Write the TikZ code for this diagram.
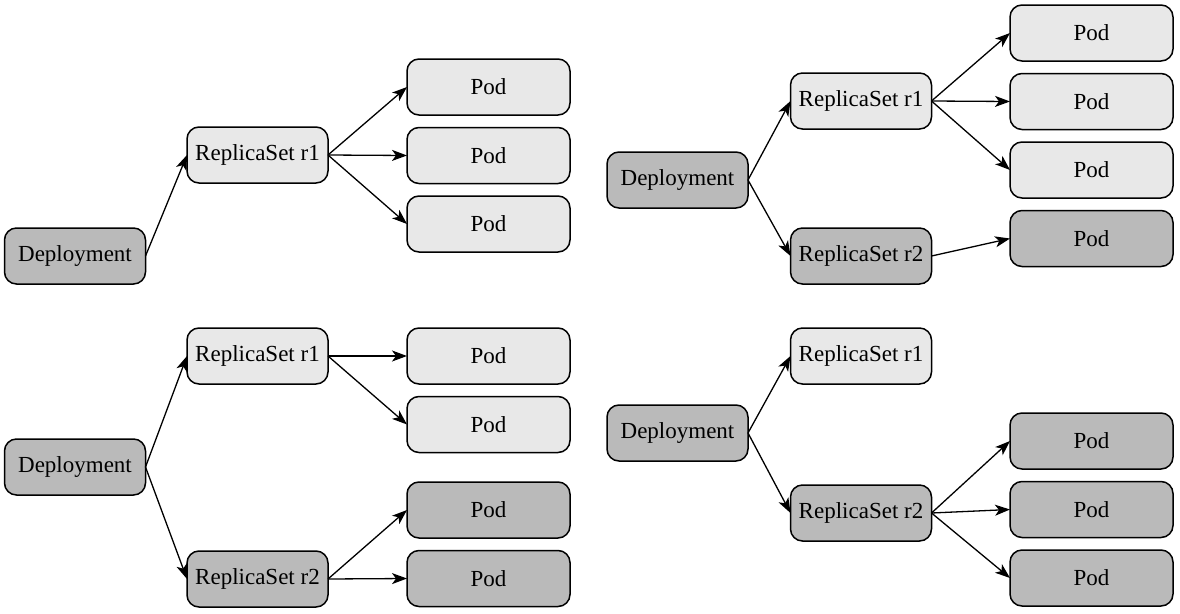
\documentclass[tikz,border=0pt]{standalone}
\usepackage{fontspec}
\setmainfont{Liberation Serif}
\usetikzlibrary{arrows.meta,positioning}
\definecolor{rsLight}{HTML}{E8E8E8}
\definecolor{rsDark}{HTML}{BABABA}
\tikzset{
  box/.style={
    rectangle,
    rounded corners=12pt,
    draw=black,
    line width=1.5pt,
    outer sep=0pt,
    fill=rsLight,
    align=center,
    font=\fontsize{23}{27}\selectfont,
    minimum height=56pt,
    minimum width=141pt,
    inner sep=0pt
  },
  podbox/.style={box, minimum width=163pt},
  old/.style={fill=rsLight},
  new/.style={fill=rsDark},
  arrow/.style={-{Stealth[length=15pt,width=11pt,inset=4pt]}, line width=1.3pt}
}
\begin{document}
\begin{tikzpicture}[x=1pt, y=-1pt, node distance=12.5pt]
  \useasboundingbox (0,0) rectangle (1180,613);
  % top left: one replica set
  \node[box, new] (depA) at (75,256) {Deployment};
  \node[box, old] (rsA1) at (257.5,155) {ReplicaSet r1};
  \node[podbox, old] (podA1) at (488.5,87) {Pod};
  \node[podbox, old, below=of podA1] (podA2) {Pod};
  \node[podbox, old, below=of podA2] (podA3) {Pod};
  \draw[arrow] (depA.east) -- (rsA1.west);
  \foreach \p in {podA1,podA2,podA3}
    \draw[arrow] (rsA1.east) -- (\p.west);
  % top right: second replica set starts
  \node[box, new] (depB) at (677.5,180) {Deployment};
  \node[box, old] (rsB1) at (861,101) {ReplicaSet r1};
  \node[box, new] (rsB2) at (861,256) {ReplicaSet r2};
  \node[podbox, old] (podB1) at (1091.5,33) {Pod};
  \node[podbox, old, below=of podB1] (podB2) {Pod};
  \node[podbox, old, below=of podB2] (podB3) {Pod};
  \node[podbox, new, below=of podB3] (podB4) {Pod};
  \draw[arrow] (depB.east) -- (rsB1.west);
  \draw[arrow] (depB.east) -- (rsB2.west);
  \foreach \p in {podB1,podB2,podB3}
    \draw[arrow] (rsB1.east) -- (\p.west);
  \draw[arrow] (rsB2.east) -- (podB4.west);
  % bottom left: half way
  \node[box, new] (depC) at (75,467) {Deployment};
  \node[box, old] (rsC1) at (257.5,356) {ReplicaSet r1};
  \node[box, new] (rsC2) at (257.5,579) {ReplicaSet r2};
  \node[podbox, old] (podC1) at (488.5,356) {Pod};
  \node[podbox, old, below=of podC1] (podC2) {Pod};
  \node[podbox, new] (podC3) at (488.5,510) {Pod};
  \node[podbox, new, below=of podC3] (podC4) {Pod};
  \draw[arrow] (depC.east) -- (rsC1.west);
  \draw[arrow] (depC.east) -- (rsC2.west);
  \foreach \p in {podC1,podC2}
    \draw[arrow] (rsC1.east) -- (\p.west);
  \foreach \p in {podC3,podC4}
    \draw[arrow] (rsC2.east) -- (\p.west);
  % bottom right: rollout done
  \node[box, new] (depD) at (677.5,433) {Deployment};
  \node[box, old] (rsD1) at (861,356) {ReplicaSet r1};
  \node[box, new] (rsD2) at (861,513) {ReplicaSet r2};
  \node[podbox, new] (podD1) at (1091.5,441) {Pod};
  \node[podbox, new, below=of podD1] (podD2) {Pod};
  \node[podbox, new, below=of podD2] (podD3) {Pod};
  \draw[arrow] (depD.east) -- (rsD1.west);
  \draw[arrow] (depD.east) -- (rsD2.west);
  \foreach \p in {podD1,podD2,podD3}
    \draw[arrow] (rsD2.east) -- (\p.west);
\end{tikzpicture}
\end{document}
